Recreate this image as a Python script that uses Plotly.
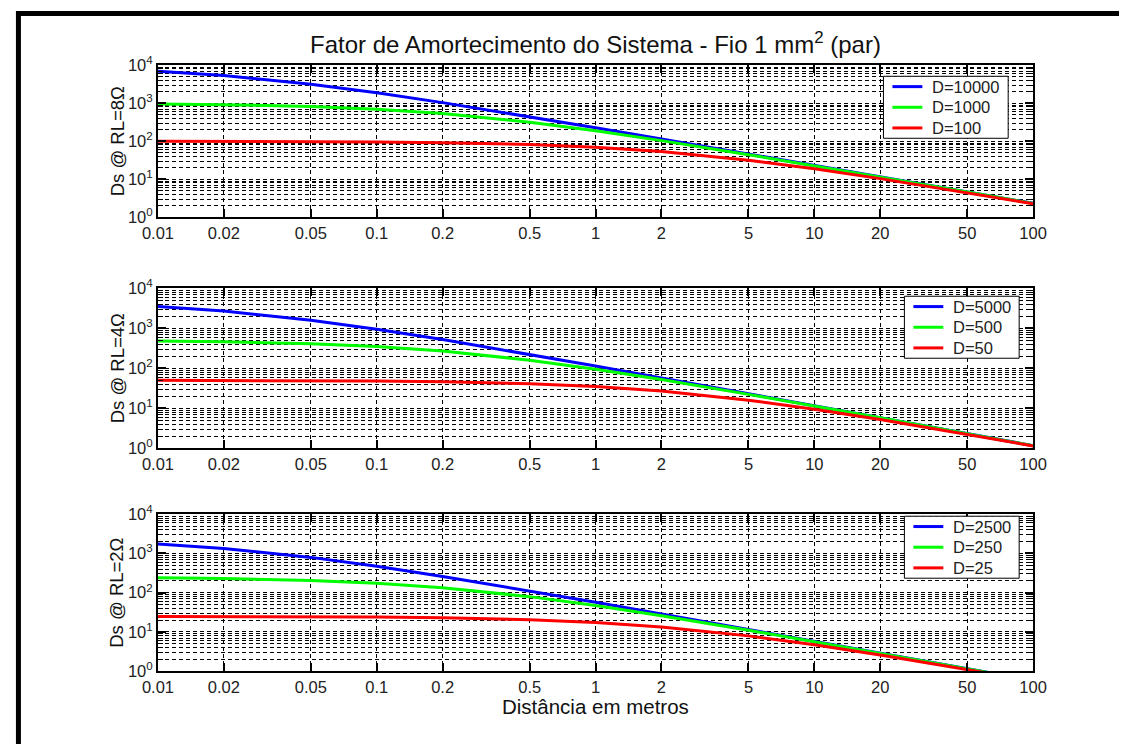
import plotly.graph_objects as go

# ---------------- data ----------------
distance = [0.01, 0.02, 0.05, 0.1, 0.2, 0.5, 1, 2, 5, 10, 20, 50, 100]
x_tick_labels = ["0.01", "0.02", "0.05", "0.1", "0.2", "0.5", "1", "2", "5", "10", "20", "50", "100"]
y_tick_values = [1, 10, 100, 1000, 10000]
y_tick_labels = ["10<sup>0</sup>", "10<sup>1</sup>", "10<sup>2</sup>", "10<sup>3</sup>", "10<sup>4</sup>"]

# RL = 8 ohm
ds8_d10000 = [6990, 5380, 3170, 1890, 1040, 444, 227, 115, 46.3, 23.2, 11.6, 4.65, 2.33]
ds8_d1000 = [959, 921, 823, 699, 538, 317, 189, 104, 44.4, 22.7, 11.5, 4.63, 2.32]
ds8_d100 = [99.6, 99.1, 97.9, 95.9, 92.1, 82.3, 69.9, 53.8, 31.7, 18.9, 10.4, 4.44, 2.27]

# RL = 4 ohm
ds4_d5000 = [3497, 2688, 1587, 943, 521, 222, 114, 57.5, 23.1, 11.6, 5.81, 2.32, 1.16]
ds4_d500 = [479, 460, 412, 350, 269, 159, 94.3, 52.1, 22.2, 11.4, 5.75, 2.31, 1.16]
ds4_d50 = [49.8, 49.6, 48.9, 47.9, 46.0, 41.2, 35.0, 26.9, 15.9, 9.43, 5.21, 2.22, 1.14]

# RL = 2 ohm
ds2_d2500 = [1748, 1344, 794, 472, 260, 111, 56.8, 28.7, 11.6, 5.80, 2.90, 1.16, 0.58]
ds2_d250 = [240, 230, 206, 175, 134, 79.4, 47.2, 26.0, 11.1, 5.68, 2.87, 1.16, 0.58]
ds2_d25 = [24.9, 24.8, 24.5, 24.0, 23.0, 20.6, 17.5, 13.4, 7.94, 4.72, 2.60, 1.11, 0.57]

panels = [
    ("Ds @ RL=8Ω", [("D=10000", ds8_d10000), ("D=1000", ds8_d1000), ("D=100", ds8_d100)]),
    ("Ds @ RL=4Ω", [("D=5000", ds4_d5000), ("D=500", ds4_d500), ("D=50", ds4_d50)]),
    ("Ds @ RL=2Ω", [("D=2500", ds2_d2500), ("D=250", ds2_d250), ("D=25", ds2_d25)]),
]
colors = ["#0000FF", "#00FF00", "#FF0000"]

# ---------------- layout geometry ----------------
W, H = 1133, 753
FONT = "Liberation Sans, Arial, sans-serif"
# the photographed page appears slightly shrunk and centred; target positions
# below are given in picture pixels and converted to page fractions.
S_X, S_Y, O_X, O_Y = 0.9756, 0.9736, 14.7, 9.7


def px(X):
    return ((X - O_X) / S_X) / W


def py(Y):
    return 1 - ((Y - O_Y) / S_Y) / H


x_dom = [px(157), px(1034)]
y_px = [(64, 216), (287, 447), (513, 670)]
# legend boxes: left, top, right, bottom (picture pixels)
legend_box = [(884, 75, 1009, 137), (905, 295, 1020, 357), (905, 515, 1020, 577)]

fig = go.Figure()
minor_vals = [m * 10 ** k for k in range(0, 4) for m in range(2, 10)]

annotations = []
shapes = []
for i, (ylabel, series) in enumerate(panels):
    n = "" if i == 0 else str(i + 1)
    for (name, vals), col in zip(series, colors):
        fig.add_trace(go.Scatter(
            x=distance, y=vals, mode="lines", name=name,
            line=dict(color=col, width=3),
            xaxis="x" + n, yaxis="y" + n, showlegend=False,
        ))
    top, bot = y_px[i]
    dom = [py(bot), py(top)]
    axis_common = dict(
        showline=True, linecolor="black", linewidth=2, mirror="ticks",
        ticks="inside", tickcolor="black", tickwidth=2, ticklen=8,
        showgrid=True, gridcolor="black", gridwidth=1, griddash="4px,3px",
        zeroline=False,
        tickfont=dict(family=FONT, size=16.5, color="#222"),
    )
    fig.update_layout(**{
        "xaxis" + n: dict(
            type="log", range=[-2, 2], domain=x_dom,
            anchor="y" + n,
            tickmode="array", tickvals=distance, ticktext=x_tick_labels,
            **axis_common,
        ),
        "yaxis" + n: dict(
            type="log", range=[0, 4], domain=dom,
            anchor="x" + n,
            tickmode="array", tickvals=y_tick_values, ticktext=y_tick_labels,
            minor=dict(tickmode="array", tickvals=minor_vals, ticks="inside",
                       ticklen=5, tickwidth=1, tickcolor="black",
                       showgrid=True, gridcolor="black", gridwidth=1,
                       griddash="4px,3px"),
            **axis_common,
        ),
    })
    annotations.append(dict(
        text=ylabel, textangle=-90, xref="paper", yref="paper",
        x=px(116), y=py((top + bot) / 2), xanchor="center", yanchor="middle",
        showarrow=False, font=dict(family=FONT, size=18.5, color="#111"),
    ))
    # legend box (drawn on paper)
    l, t, r, b = legend_box[i]
    shapes.append(dict(type="rect", xref="paper", yref="paper",
                       x0=px(l), x1=px(r), y0=py(b), y1=py(t),
                       fillcolor="white", line=dict(color="black", width=1), layer="above"))
    row_h = (b - t) / 3
    for k, ((name, _), col) in enumerate(zip(series, colors)):
        yc = t + row_h * (k + 0.5)
        shapes.append(dict(type="line", xref="paper", yref="paper",
                           x0=px(l + 9), x1=px(l + 39), y0=py(yc), y1=py(yc),
                           line=dict(color=col, width=3), layer="above"))
        annotations.append(dict(
            text=name, xref="paper", yref="paper", x=px(l + 47), y=py(yc),
            xanchor="left", yanchor="middle", showarrow=False,
            font=dict(family=FONT, size=16.5, color="#222"),
        ))

annotations.append(dict(
    text="Fator de Amortecimento do Sistema - Fio 1 mm<sup>2</sup> (par)",
    xref="paper", yref="paper", x=px(595.5), y=py(42),
    xanchor="center", yanchor="middle", showarrow=False,
    font=dict(family=FONT, size=24, color="#111"),
))
annotations.append(dict(
    text="Distância em metros",
    xref="paper", yref="paper", x=px(595.5), y=py(705),
    xanchor="center", yanchor="middle", showarrow=False,
    font=dict(family=FONT, size=20.5, color="#111"),
))

# figure frame (top and left edges only), as close to the corner as the page allows
shapes += [
    dict(type="line", xref="paper", yref="paper", x0=0, x1=1, y0=1 - 2.5 / H, y1=1 - 2.5 / H,
         line=dict(color="black", width=5)),
    dict(type="line", xref="paper", yref="paper", x0=2.5 / W, x1=2.5 / W, y0=0, y1=1,
         line=dict(color="black", width=5)),
]

fig.update_layout(
    width=W, height=H, margin=dict(l=0, r=0, t=0, b=0),
    paper_bgcolor="white", plot_bgcolor="white",
    showlegend=False, annotations=annotations, shapes=shapes,
    font=dict(family=FONT),
)

fig.write_html(
    "out.html",
    config={"displayModeBar": False},
    post_script="document.body.style.margin='0';",
)
